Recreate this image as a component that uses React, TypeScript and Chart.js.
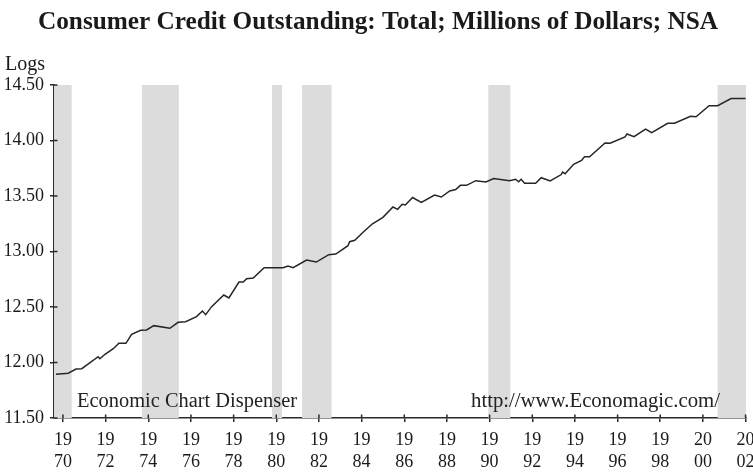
import React, { useEffect, useRef } from "react";
import { Chart, registerables } from "chart.js";

Chart.register(...registerables);

const dates: number[] = [
  1969.67, 1970.25, 1970.61, 1970.88, 1971.65, 1971.73, 1971.97, 1972.36, 1972.62, 1972.95,
  1973.22, 1973.64, 1973.92, 1974.26, 1975.01, 1975.4, 1975.75, 1976.26, 1976.54, 1976.69,
  1976.97, 1977.54, 1977.78, 1978.25, 1978.45, 1978.61, 1978.92, 1979.43, 1980.32, 1980.55,
  1980.79, 1981.42, 1981.88, 1982.46, 1982.79, 1983.36, 1983.44, 1983.68, 1984.07, 1984.51,
  1985.0, 1985.47, 1985.69, 1985.9, 1986.05, 1986.39, 1986.8, 1987.42, 1987.74, 1988.13,
  1988.41, 1988.63, 1988.92, 1989.35, 1989.83, 1990.19, 1990.94, 1991.22, 1991.36, 1991.48,
  1991.64, 1992.16, 1992.42, 1992.84, 1993.36, 1993.42, 1993.54, 1993.94, 1994.31, 1994.45,
  1994.69, 1995.41, 1995.65, 1996.35, 1996.44, 1996.77, 1997.31, 1997.6, 1998.35, 1998.67,
  1999.42, 1999.68, 2000.29, 2000.69, 2001.32, 2002.0,
];

const logValues: number[] = [
  11.894, 11.903, 11.941, 11.944, 12.052, 12.034, 12.074, 12.124, 12.173, 12.173,
  12.254, 12.29, 12.293, 12.332, 12.308, 12.362, 12.368, 12.413, 12.464, 12.431,
  12.503, 12.608, 12.581, 12.725, 12.725, 12.755, 12.761, 12.854, 12.854, 12.869,
  12.854, 12.923, 12.905, 12.971, 12.977, 13.052, 13.088, 13.101, 13.173, 13.25,
  13.308, 13.401, 13.38, 13.425, 13.419, 13.486, 13.443, 13.509, 13.491, 13.545,
  13.559, 13.596, 13.596, 13.638, 13.626, 13.658, 13.638, 13.651, 13.628, 13.651,
  13.615, 13.615, 13.665, 13.635, 13.693, 13.716, 13.701, 13.786, 13.821, 13.854,
  13.854, 13.978, 13.975, 14.032, 14.059, 14.034, 14.102, 14.07, 14.155, 14.155,
  14.219, 14.214, 14.313, 14.313, 14.378, 14.378,
];

const recessionStarts: number[] = [1969.58, 1973.7, 1979.8, 1981.21, 1989.94, 2000.69];
const recessionEnds: number[] = [1970.41, 1975.43, 1980.27, 1982.59, 1990.97, 2002.02];

const xTickYears: number[] = [
  1970, 1972, 1974, 1976, 1978, 1980, 1982, 1984, 1986, 1988, 1990, 1992, 1994, 1996, 1998, 2000, 2002,
];

const TITLE = "Consumer Credit Outstanding: Total; Millions of Dollars; NSA";
const Y_UNIT = "Logs";
const WATERMARK_LEFT = "Economic Chart Dispenser";
const WATERMARK_RIGHT = "http://www.Economagic.com/";

const SERIF = "'Liberation Serif', 'DejaVu Serif', serif";
const AXIS_COLOR = "#2a2a2a";

function drawFitted(
  ctx: CanvasRenderingContext2D,
  text: string,
  font: string,
  x: number,
  baseline: number,
  width: number
) {
  ctx.save();
  ctx.font = font;
  ctx.textAlign = "left";
  ctx.textBaseline = "alphabetic";
  const w = ctx.measureText(text).width;
  ctx.translate(x, baseline);
  ctx.scale(width / w, 1);
  ctx.fillText(text, 0, 0);
  ctx.restore();
}

const decorPlugin = {
  id: "decor",
  beforeDatasetsDraw(chart: any) {
    const { ctx, chartArea, scales } = chart;
    const xs = scales.x;
    ctx.save();
    ctx.fillStyle = "#dcdcdc";
    for (let i = 0; i < recessionStarts.length; i++) {
      const a = Math.max(xs.getPixelForValue(recessionStarts[i]), chartArea.left);
      const b = Math.min(xs.getPixelForValue(recessionEnds[i]), chartArea.right);
      ctx.fillRect(a, chartArea.top, b - a, chartArea.bottom - chartArea.top);
    }
    ctx.restore();
  },
  afterDraw(chart: any) {
    const { ctx, chartArea, scales } = chart;
    ctx.save();
    ctx.strokeStyle = AXIS_COLOR;
    ctx.lineWidth = 1.5;
    ctx.beginPath();
    for (const t of scales.y.ticks) {
      const py = scales.y.getPixelForValue(t.value);
      ctx.moveTo(chartArea.left, py);
      ctx.lineTo(chartArea.left + 3.5, py);
    }
    for (const t of scales.x.ticks) {
      const px = scales.x.getPixelForValue(t.value);
      ctx.moveTo(px, chartArea.bottom);
      ctx.lineTo(px, chartArea.bottom - 3.5);
    }
    ctx.stroke();

    ctx.fillStyle = "#1a1a1a";
    drawFitted(ctx, TITLE, `bold 25px ${SERIF}`, 38, 29, 680);
    drawFitted(ctx, Y_UNIT, `20px ${SERIF}`, 5, 70, 40);
    ctx.fillStyle = "#222";
    drawFitted(ctx, WATERMARK_LEFT, `20px ${SERIF}`, 77, 407, 220);
    drawFitted(ctx, WATERMARK_RIGHT, `20px ${SERIF}`, 471, 407, 249);
    ctx.restore();
  },
};

export default function App() {
  const canvasRef = useRef<HTMLCanvasElement | null>(null);

  useEffect(() => {
    document.body.style.margin = "0";
    const canvas = canvasRef.current;
    if (!canvas) return;
    const chart = new Chart(canvas, {
      type: "line",
      data: {
        datasets: [
          {
            label: "Consumer Credit",
            data: dates.map((d, i) => ({ x: d, y: logValues[i] })),
            borderColor: "#262626",
            borderWidth: 1.5,
            pointRadius: 0,
            tension: 0,
            fill: false,
          },
        ],
      },
      options: {
        animation: false,
        responsive: false,
        maintainAspectRatio: false,
        devicePixelRatio: 1,
        layout: { padding: { top: 85, right: 7, left: 0, bottom: 0 } },
        plugins: {
          legend: { display: false },
          title: { display: false },
          tooltip: { enabled: false },
        },
        scales: {
          x: {
            type: "linear",
            min: 1969.58,
            max: 2002.02,
            afterBuildTicks: (scale: any) => {
              scale.ticks = xTickYears.map((v) => ({ value: v }));
            },
            afterFit: (scale: any) => {
              scale.height = 54;
              scale.paddingLeft = 0;
              scale.paddingRight = 0;
            },
            ticks: {
              autoSkip: false,
              maxRotation: 0,
              minRotation: 0,
              padding: 7,
              color: "#1a1a1a",
              font: { family: SERIF, size: 18, lineHeight: 1.22 },
              callback: (v: any) => {
                const s = String(Math.round(Number(v)));
                return [s.slice(0, 2), s.slice(2)];
              },
            },
            grid: {
              display: true,
              drawOnChartArea: false,
              drawTicks: true,
              tickLength: 4,
              color: AXIS_COLOR,
              lineWidth: 1.5,
            },
            border: { display: true, color: AXIS_COLOR, width: 1.5 },
          },
          y: {
            type: "linear",
            min: 11.5,
            max: 14.5,
            afterFit: (scale: any) => {
              scale.width = 54;
            },
            ticks: {
              stepSize: 0.5,
              padding: 6,
              color: "#1a1a1a",
              font: { family: SERIF, size: 18 },
              callback: (v: any) => Number(v).toFixed(2),
            },
            grid: {
              display: true,
              drawOnChartArea: false,
              drawTicks: true,
              tickLength: 4,
              color: AXIS_COLOR,
              lineWidth: 1.5,
            },
            border: { display: true, color: AXIS_COLOR, width: 1.5 },
          },
        },
      },
      plugins: [decorPlugin],
    });
    return () => chart.destroy();
  }, []);

  return (
    <div style={{ position: "fixed", left: 0, top: 0, width: 753, height: 472, background: "#fff" }}>
      <canvas ref={canvasRef} width={753} height={472} style={{ width: 753, height: 472 }} />
    </div>
  );
}
